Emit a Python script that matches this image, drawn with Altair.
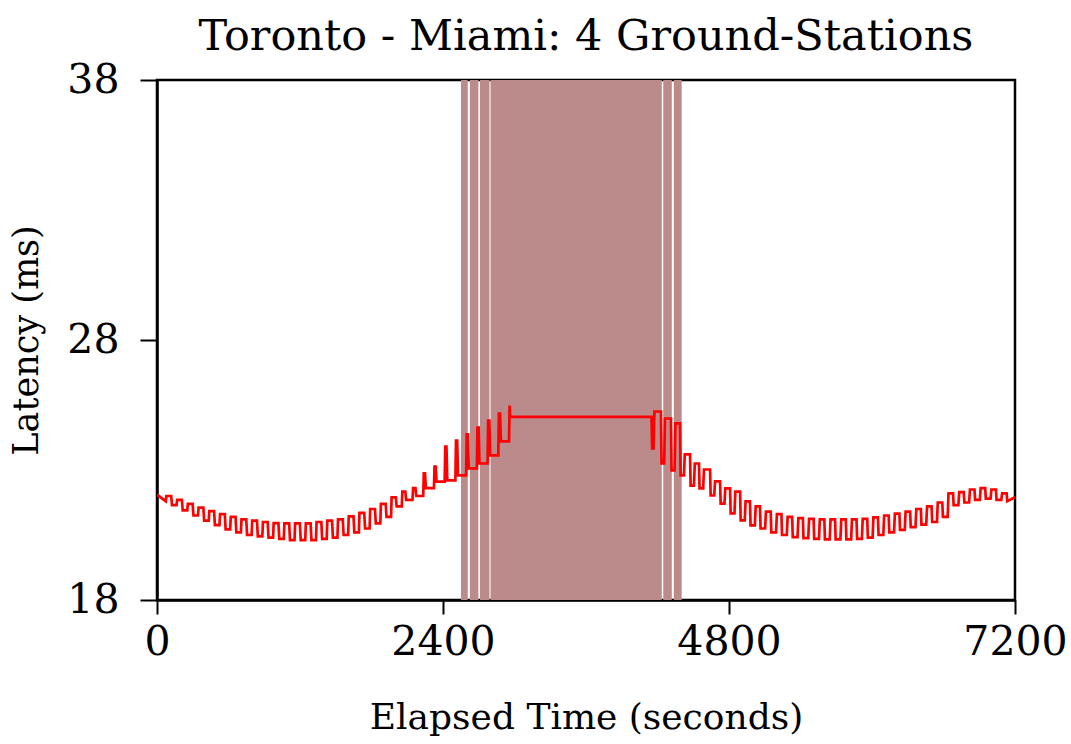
import altair as alt
import pandas as pd

# Shaded intervals (seconds)
span_start = [2551, 2625, 2710, 2799, 4248, 4337]
span_end = [2608, 2697, 2790, 4236, 4320, 4403]

# Left part: time of each upward jump, level just before it, peak just after it (ms)
left_t = [74, 164, 254, 344, 434, 524, 614, 704, 794, 884, 974, 1064, 1154, 1244, 1334,
          1424, 1514, 1604, 1694, 1784, 1874, 1964, 2054, 2144, 2234, 2324, 2414, 2504,
          2594, 2684, 2774, 2864, 2954]
left_lo = [21.80, 21.65, 21.45, 21.25, 21.05, 20.88, 20.72, 20.60, 20.50, 20.45, 20.40,
           20.35, 20.30, 20.30, 20.30, 20.35, 20.40, 20.50, 20.60, 20.75, 20.95, 21.20,
           21.60, 21.85, 22.00, 22.30, 22.55, 22.60, 22.79, 23.06, 23.25, 23.56, 24.10]
left_hi = [22.00, 21.85, 21.70, 21.55, 21.42, 21.30, 21.20, 21.10, 21.05, 21.00, 20.96,
           20.95, 20.95, 20.95, 21.00, 21.05, 21.10, 21.22, 21.35, 21.50, 21.70, 21.95,
           22.17, 22.30, 22.87, 23.13, 23.90, 24.13, 24.37, 24.63, 24.90, 25.17, 25.48]
# how long each peak lasts before falling back (s)
left_w = [40, 40, 40, 40, 40, 40, 40, 40, 40, 40, 40, 40, 40, 40, 40, 40, 40, 40, 40, 40,
          40, 35, 25, 20, 10, 10, 10, 10, 10, 10, 10, 10, 4]

start_level = 22.05
flat_level = 25.04

# Right part: time of each downward jump, level before it, level after it (ms)
right_t = [4150, 4229, 4313, 4389, 4473, 4548, 4641, 4725, 4809, 4893, 4976, 5060, 5150,
           5240, 5330, 5420, 5510, 5600, 5690, 5780, 5870, 5960, 6050, 6140, 6230, 6320,
           6410, 6500, 6590, 6680, 6770, 6860, 6950, 7040, 7130]
right_hi = [25.04, 25.25, 24.98, 24.79, 23.60, 23.25, 23.02, 22.56, 22.29, 22.17, 21.79,
            21.60, 21.40, 21.30, 21.20, 21.15, 21.12, 21.10, 21.10, 21.10, 21.10, 21.12,
            21.18, 21.25, 21.32, 21.40, 21.50, 21.60, 21.75, 22.10, 22.15, 22.25, 22.30,
            22.25, 22.10]
right_lo = [23.83, 23.25, 22.98, 22.79, 22.40, 22.29, 22.02, 21.71, 21.33, 21.06, 20.87,
            20.75, 20.60, 20.50, 20.42, 20.38, 20.35, 20.33, 20.33, 20.33, 20.35, 20.40,
            20.50, 20.60, 20.70, 20.80, 20.90, 21.00, 21.20, 21.65, 21.75, 21.85, 21.90,
            21.85, 21.80]
# how long each dip lasts before rising again (s)
right_w = [12, 22, 25, 28, 28, 30, 30, 32, 32, 34, 36, 38, 40, 40, 40, 40, 40, 40, 40, 40,
           40, 40, 40, 40, 40, 40, 40, 40, 40, 40, 40, 40, 40, 40, 40]
end_time = 7200
end_level = 21.95

# ---- build the line table from the lists ----
pts = [(0, start_level)]
for i, t in enumerate(left_t):
    pts.append((t, left_lo[i]))
    pts.append((t + 5, left_hi[i]))
    if i + 1 < len(left_t):
        pts.append((t + 5 + left_w[i], left_hi[i]))
        pts.append((t + 12 + left_w[i], left_lo[i + 1]))
pts.append((left_t[-1] + 10, flat_level))
for i, d in enumerate(right_t):
    pts.append((d, right_hi[i]))
    pts.append((d + 5, right_lo[i]))
    if i + 1 < len(right_t):
        pts.append((d + 5 + right_w[i], right_lo[i]))
        pts.append((d + 12 + right_w[i], right_hi[i + 1]))
pts.append((end_time, end_level))

line_df = pd.DataFrame({"t": [p[0] for p in pts], "lat": [p[1] for p in pts],
                        "i": list(range(len(pts)))})
span_df = pd.DataFrame({"start": span_start, "end": span_end})

FONT = "DejaVu Serif"

xscale = alt.Scale(domain=[0, 7200], nice=False, zero=False)
yscale = alt.Scale(domain=[18, 38], nice=False, zero=False)

rects = alt.Chart(span_df).mark_rect(color="#bb8b8b").encode(
    x=alt.X("start:Q", scale=xscale),
    x2="end:Q",
)

line = alt.Chart(line_df).mark_line(color="#ff0000", strokeWidth=2.7, clip=True).encode(
    x=alt.X("t:Q", scale=xscale,
            axis=alt.Axis(values=[0, 2400, 4800, 7200], title="Elapsed Time (seconds)",
                          labelPadding=8, tickSize=14, titlePadding=38, format="d",
                          titleFontSize=36)),
    y=alt.Y("lat:Q", scale=yscale,
            axis=alt.Axis(values=[18, 28, 38], title="Latency (ms)",
                          labelPadding=21, tickSize=17, titlePadding=22)),
    order="i:Q",
)

chart = alt.layer(rects, line).properties(
    width=858,
    height=520,
    title=alt.TitleParams("Toronto - Miami: 4 Ground-Stations", font=FONT, fontSize=43,
                          fontWeight="normal", color="black", offset=20, dy=20,
                          anchor="middle", frame="group"),
    autosize=alt.AutoSizeParams(type="none"),
    padding={"left": 157, "top": 80, "right": 56, "bottom": 144},
).configure_view(
    stroke="black", strokeWidth=2.5
).configure_axis(
    grid=False,
    domainColor="black",
    domainWidth=2.5,
    tickColor="black",
    tickWidth=2,
    labelFont=FONT,
    labelFontSize=41,
    labelColor="black",
    labelOverlap=False,
    labelFlush=False,
    titleFont=FONT,
    titleFontSize=35,
    titleFontWeight="normal",
    titleColor="black",
)

chart.save("out.html", embed_options={"renderer": "svg", "actions": False})
